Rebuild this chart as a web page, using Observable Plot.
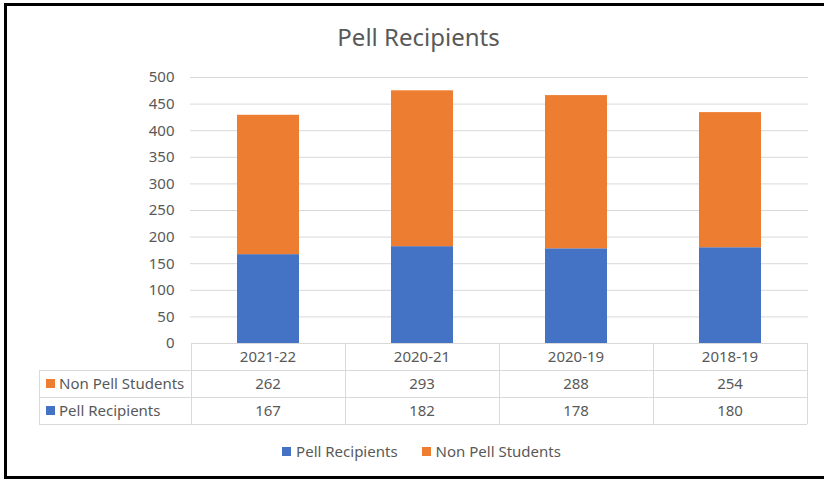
<!DOCTYPE html>
<html>
<head>
<meta charset="utf-8">
<script src="https://cdn.jsdelivr.net/npm/d3@7"></script>
<script src="https://cdn.jsdelivr.net/npm/@observablehq/plot@0.6"></script>
<style>
  body { margin: 0; background: #fff; }
  #wrap { position: relative; width: 824px; height: 479px; overflow: hidden; font-family: "Noto Sans", sans-serif; color: #595959; background: #fff; }
  #chart { position: absolute; left: 0; top: 0; }
  #border { position: absolute; left: 4px; top: 3px; width: 900px; height: 470px; border: 3px solid #000; pointer-events: none; }
  #title { position: absolute; top: 20px; left: 0; width: 837px; text-align: center; font-size: 24px; line-height: normal; white-space: nowrap; }
  #legend { position: absolute; top: 441px; left: 0; width: 843px; display: flex; justify-content: center; gap: 24px; font-size: 15px; line-height: 20px; }
  #legend .item { display: flex; align-items: center; white-space: nowrap; }
  #legend .sw { width: 9px; height: 9px; margin-right: 5px; }
</style>
</head>
<body>
<div id="wrap">
  <div id="chart"></div>
  <div id="border"></div>
  <div id="title"></div>
  <div id="legend"></div>
</div>
<script>
const titleText = "Pell Recipients";
const categories = ["2021-22", "2020-21", "2020-19", "2018-19"];
const series = ["Pell Recipients", "Non Pell Students"];
const pellValues = [167, 182, 178, 180];
const nonPellValues = [262, 293, 288, 254];
const yTicks = [0, 50, 100, 150, 200, 250, 300, 350, 400, 450, 500];
const colors = ["#4472C4", "#ED7D31"];
const tableRows = [
  { label: series[1], color: colors[1], values: nonPellValues },
  { label: series[0], color: colors[0], values: pellValues }
];

const data = [
  ...categories.map((c, i) => ({ category: c, series: series[0], value: pellValues[i] })),
  ...categories.map((c, i) => ({ category: c, series: series[1], value: nonPellValues[i] }))
];

const W = 824, H = 479;
const plot = Plot.plot({
  width: W,
  height: H,
  marginTop: 77,
  marginBottom: 136,
  marginLeft: 190,
  marginRight: 16,
  style: { fontFamily: "Noto Sans, sans-serif", fontSize: "15px", color: "#595959", background: "transparent" },
  x: { domain: categories, paddingInner: 0.6, paddingOuter: 0.3, axis: null },
  y: { domain: [0, 500], axis: null },
  color: { domain: series, range: colors },
  marks: [
    Plot.gridY(yTicks.filter(t => t > 0), { stroke: "#d9d9d9", strokeOpacity: 1, strokeWidth: 1 }),
    Plot.barY(data, { x: "category", y: "value", fill: "series" }),
    Plot.axisY(yTicks, { tickSize: 0, tickPadding: 16, fontSize: 15, fill: "#595959", label: null })
  ]
});
document.getElementById("chart").appendChild(plot);

// Data table below the plot, positioned from Plot's own scales
const xs = plot.scale("x");
const ys = plot.scale("y");
const step = xs.apply(categories[1]) - xs.apply(categories[0]);
const bw = xs.bandwidth;
const left = c => xs.apply(c) - (step - bw) / 2;
const top0 = ys.apply(0);
const rowH = 27;
const labelLeft = 39;
const gridLeft = left(categories[0]);
const gridRight = left(categories[categories.length - 1]) + step;
const svg = d3.select(plot);
const g = svg.append("g").attr("stroke", "#d9d9d9").attr("stroke-width", 1).attr("fill", "none");
g.append("line").attr("x1", gridLeft).attr("x2", gridRight).attr("y1", top0 + 0.5).attr("y2", top0 + 0.5);
for (let r = 1; r <= tableRows.length + 1; r++) {
  const yy = top0 + r * rowH + 0.5;
  g.append("line").attr("x1", labelLeft).attr("x2", gridRight).attr("y1", yy).attr("y2", yy);
}
const vx = categories.map(c => left(c)).concat([gridRight]);
vx.forEach(xx => {
  g.append("line").attr("x1", xx + 0.5).attr("x2", xx + 0.5).attr("y1", top0).attr("y2", top0 + rowH * (tableRows.length + 1));
});
g.append("line").attr("x1", labelLeft + 0.5).attr("x2", labelLeft + 0.5).attr("y1", top0 + rowH).attr("y2", top0 + rowH * (tableRows.length + 1));

const tg = svg.append("g").attr("fill", "#595959").attr("font-size", 15).attr("font-family", "Noto Sans, sans-serif");
categories.forEach(c => {
  tg.append("text").attr("x", xs.apply(c) + bw / 2).attr("y", top0 + rowH / 2).attr("dy", "0.35em")
    .attr("text-anchor", "middle").text(c);
});
tableRows.forEach((row, r) => {
  const cy = top0 + rowH * (r + 1) + rowH / 2;
  svg.append("rect").attr("x", 46).attr("y", cy - 4.5).attr("width", 9).attr("height", 9).attr("fill", row.color);
  tg.append("text").attr("x", 59).attr("y", cy).attr("dy", "0.35em").attr("text-anchor", "start").text(row.label);
  row.values.forEach((v, i) => {
    tg.append("text").attr("x", xs.apply(categories[i]) + bw / 2).attr("y", cy).attr("dy", "0.35em")
      .attr("text-anchor", "middle").text(String(v));
  });
});

document.getElementById("title").textContent = titleText;
const legend = document.getElementById("legend");
series.forEach((s, i) => {
  const item = document.createElement("div");
  item.className = "item";
  const sw = document.createElement("span");
  sw.className = "sw";
  sw.style.background = colors[i];
  item.appendChild(sw);
  item.appendChild(document.createTextNode(s));
  legend.appendChild(item);
});
</script>
</body>
</html>
